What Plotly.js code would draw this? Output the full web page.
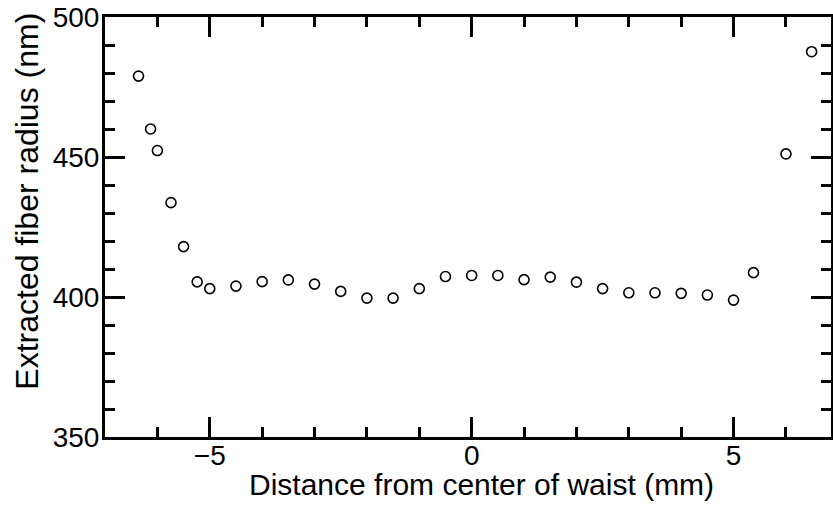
<!DOCTYPE html>
<html>
<head>
<meta charset="utf-8">
<script src="https://cdn.plot.ly/plotly-3.0.1.min.js"></script>
<style>html,body{margin:0;padding:0;background:#fff;}#chart{width:833px;height:507px;}</style>
</head>
<body>
<div id="chart"></div>
<script>
const distance_mm = [-6.36, -6.13, -6.0, -5.74, -5.5, -5.24, -5.0, -4.5, -4.0, -3.5, -3.0, -2.5, -2.0, -1.5, -1.0, -0.5, 0.0, 0.5, 1.0, 1.5, 2.0, 2.5, 3.0, 3.5, 4.0, 4.5, 5.0, 5.38, 6.0, 6.49];
const radius_nm = [478.9, 460.0, 452.3, 433.7, 418.0, 405.4, 403.0, 403.9, 405.5, 406.1, 404.6, 402.0, 399.6, 399.6, 403.0, 407.3, 407.7, 407.7, 406.2, 407.1, 405.3, 403.0, 401.5, 401.5, 401.3, 400.7, 398.9, 408.7, 451.1, 487.6];
const xMajorTicks = [-5, 0, 5];
const yMajorTicks = [350, 400, 450, 500];
const xTitle = 'Distance from center of waist (mm)';
const yTitle = 'Extracted fiber radius (nm)';

const FAM = 'Liberation Sans, Arial, Helvetica, sans-serif';
const tickFont = {family: FAM, size: 28, color: '#000'};
const xTitleFont = {family: FAM, size: 30, color: '#000'};
const yTitleFont = {family: FAM, size: 32, color: '#000'};

Plotly.newPlot('chart', [{
  x: distance_mm, y: radius_nm, type: 'scatter', mode: 'markers',
  marker: {symbol: 'circle-open', size: 10, color: '#000', line: {width: 1.6, color: '#000'}},
  cliponaxis: false, hoverinfo: 'skip'
}], {
  width: 833, height: 507,
  margin: {l: 105, r: 2, t: 17, b: 70},
  paper_bgcolor: '#fff', plot_bgcolor: '#fff',
  showlegend: false,
  font: {family: FAM, size: 28, color: '#000'},
  xaxis: {
    range: [-7, 6.86], tickmode: 'linear', tick0: xMajorTicks[1], dtick: xMajorTicks[2] - xMajorTicks[1],
    showline: true, linewidth: 3, linecolor: '#000', mirror: 'ticks',
    ticks: 'inside', ticklen: 20, tickwidth: 3, tickcolor: '#000',
    showgrid: false, zeroline: false, tickfont: tickFont, ticklabelstandoff: -9,
    minor: {dtick: 1, ticks: 'inside', ticklen: 10, tickwidth: 3, tickcolor: '#000', showgrid: false}
  },
  yaxis: {
    range: [yMajorTicks[0], yMajorTicks[3]], tickmode: 'linear', tick0: 0, dtick: yMajorTicks[1] - yMajorTicks[0],
    showline: true, linewidth: 3, linecolor: '#000', mirror: 'ticks',
    ticks: 'inside', ticklen: 20, tickwidth: 3, tickcolor: '#000',
    showgrid: false, zeroline: false, tickfont: tickFont, ticklabelstandoff: -3,
    minor: {dtick: 10, ticks: 'inside', ticklen: 10, tickwidth: 3, tickcolor: '#000', showgrid: false}
  },
  annotations: [
    {text: xTitle, xref: 'paper', yref: 'paper', x: 0.518, y: -0.114, xanchor: 'center', yanchor: 'middle', showarrow: false, font: xTitleFont},
    {text: yTitle, xref: 'paper', yref: 'paper', x: -0.107, y: 0.561, xanchor: 'center', yanchor: 'middle', textangle: -90, showarrow: false, font: yTitleFont}
  ]
}, {staticPlot: true, displayModeBar: false});
</script>
</body>
</html>
